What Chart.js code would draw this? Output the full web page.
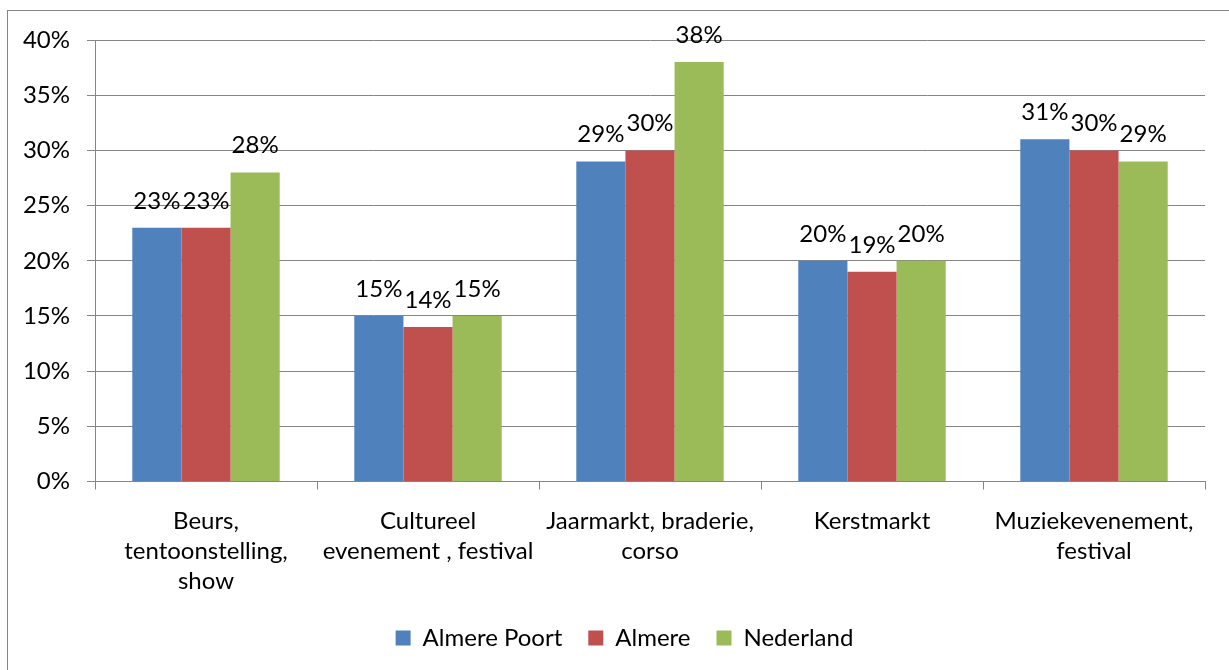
<!DOCTYPE html>
<html>
<head>
<meta charset="utf-8">
<script src="https://cdn.jsdelivr.net/npm/chart.js@4.4.0/dist/chart.umd.min.js"></script>
<style>
  html, body { margin: 0; padding: 0; background: #ffffff; }
  #wrap { position: relative; width: 1229px; height: 670px; }
  canvas { display: block; }
</style>
</head>
<body>
<div id="wrap"><canvas id="c" width="1229" height="670"></canvas></div>
<script>
const categories = [
  ["Beurs,", "tentoonstelling,", "show"],
  ["Cultureel", "evenement , festival"],
  ["Jaarmarkt, braderie,", "corso"],
  ["Kerstmarkt"],
  ["Muziekevenement,", "festival"]
];
const almerePoort = [23, 15, 29, 20, 31];
const almere = [23, 14, 30, 19, 30];
const nederland = [28, 15, 38, 20, 29];
const yTicks = [0, 5, 10, 15, 20, 25, 30, 35, 40];

const FONT = "Lato, 'Open Sans', sans-serif";
const FS = 24;
const GRAY = "#868686";

const framePlugin = {
  id: 'frame',
  beforeDraw(chart) {
    const ctx = chart.ctx;
    ctx.save();
    ctx.fillStyle = '#ffffff';
    ctx.fillRect(0, 0, chart.width, chart.height);
    ctx.strokeStyle = GRAY;
    ctx.lineWidth = 1;
    ctx.strokeRect(7.5, 10.5, 1400, 900);
    ctx.restore();
  }
};

const legendShift = {
  id: 'legendShift',
  afterLayout(chart) {
    if (chart.legend) {
      chart.legend.left += 22;
      chart.legend.right += 22;
      chart.legend.top -= 10;
      chart.legend.bottom -= 10;
    }
  }
};

const labelPlugin = {
  id: 'barLabels',
  afterDatasetsDraw(chart) {
    const ctx = chart.ctx;
    ctx.save();
    ctx.font = FS + "px " + FONT;
    ctx.fillStyle = "#000000";
    ctx.textAlign = "center";
    ctx.textBaseline = "alphabetic";
    chart.data.datasets.forEach((ds, i) => {
      const meta = chart.getDatasetMeta(i);
      meta.data.forEach((bar, j) => {
        ctx.fillText(ds.data[j] + "%", bar.x, bar.y - 19);
      });
    });
    ctx.restore();
  }
};

new Chart(document.getElementById('c'), {
  type: 'bar',
  data: {
    labels: categories,
    datasets: [
      { label: "Almere Poort", data: almerePoort, backgroundColor: "#4F81BD" },
      { label: "Almere", data: almere, backgroundColor: "#C0504D" },
      { label: "Nederland", data: nederland, backgroundColor: "#9BBB59" }
    ]
  },
  options: {
    responsive: false,
    animation: false,
    devicePixelRatio: 1,
    layout: { padding: { top: 40, right: 24, left: 0, bottom: 0 } },
    datasets: { bar: { barPercentage: 1.0, categoryPercentage: 0.664 } },
    plugins: {
      legend: {
        position: 'bottom',
        labels: {
          boxWidth: 15, boxHeight: 15, padding: 26,
          color: "#000000",
          font: { family: FONT, size: FS }
        }
      },
      tooltip: { enabled: false }
    },
    scales: {
      x: {
        offset: true,
        afterFit(scale) { scale.height = scale.height - 3; },
        grid: { offset: true, drawOnChartArea: false, drawTicks: true, tickLength: 8, color: GRAY },
        border: { color: GRAY, width: 1 },
        ticks: {
          color: "#000000", padding: 16, maxRotation: 0, autoSkip: false,
          font: { family: FONT, size: FS, lineHeight: 1.27 }
        }
      },
      y: {
        min: 0, max: 40,
        afterBuildTicks(scale) { scale.ticks = yTicks.map(v => ({ value: v })); },
        afterFit(scale) { scale.width = 95; },
        grid: { color: GRAY, tickLength: 8 },
        border: { color: GRAY, width: 1 },
        ticks: {
          color: "#000000", padding: 17,
          font: { family: FONT, size: FS },
          callback: v => v + "%"
        }
      }
    }
  },
  plugins: [framePlugin, legendShift, labelPlugin]
});
</script>
</body>
</html>
